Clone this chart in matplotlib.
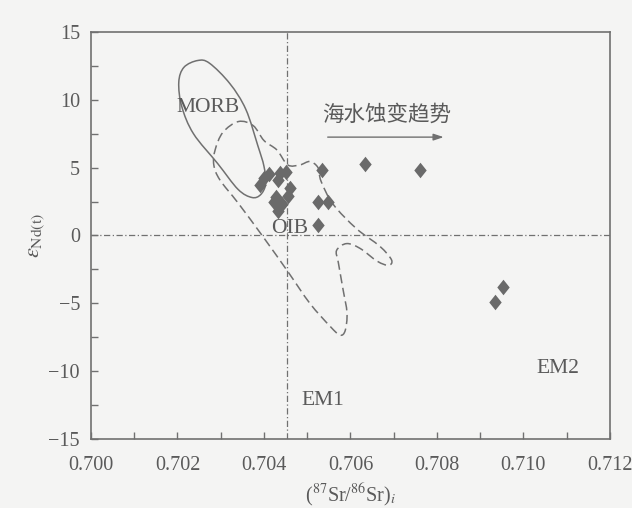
import numpy as np
import matplotlib
matplotlib.use('Agg')
import matplotlib.pyplot as plt
from matplotlib.path import Path
from matplotlib.patches import PathPatch

plt.rcParams['mathtext.fontset'] = 'stix'

# 样品数据 (87Sr/86Sr)i - εNd(t)
sr = [0.70390, 0.70400, 0.70412, 0.70433, 0.70437, 0.70451, 0.70460, 0.70456,
      0.70423, 0.70442, 0.70433, 0.70428, 0.70535, 0.70526, 0.70549, 0.70526,
      0.70633, 0.70760, 0.70953, 0.70934]
nd = [3.7, 4.2, 4.5, 4.1, 4.6, 4.7, 3.5, 2.9,
      2.5, 2.3, 1.8, 2.8, 4.8, 2.5, 2.5, 0.8,
      5.3, 4.8, -3.8, -4.9]

# MORB 区域 (实线)
morb_x = [0.70247, 0.70274, 0.70321, 0.70358, 0.70386, 0.70400, 0.70404, 0.70392,
          0.70372, 0.70340, 0.70293, 0.70237, 0.70210, 0.70203, 0.70215]
morb_y = [12.9, 12.7, 11.2, 9.3, 6.6, 5.1, 3.8, 3.0,
          2.8, 3.4, 5.3, 7.5, 9.5, 11.3, 12.4]

# OIB 区域 (虚线)
oib_x = [0.70341, 0.70375, 0.70400, 0.70430, 0.70455, 0.70483, 0.70506, 0.70525,
         0.70532, 0.70560, 0.70614, 0.70668, 0.70695, 0.70688, 0.70662, 0.70622,
         0.70591, 0.70568, 0.70572, 0.70583, 0.70592, 0.70588, 0.70576, 0.70553,
         0.70506, 0.70456, 0.70398, 0.70340, 0.70298, 0.70284, 0.70287, 0.70305]
oib_y = [8.4, 8.1, 7.0, 6.3, 5.2, 5.2, 5.45, 5.0,
         4.0, 2.3, 0.5, -0.8, -1.8, -2.2, -1.9, -0.95,
         -0.6, -1.1, -2.0, -4.0, -5.7, -7.0, -7.35, -6.7,
         -5.0, -2.7, -0.1, 2.4, 4.1, 5.2, 6.3, 7.6]

xticks = [0.700 + 0.001 * i for i in range(13)]
xlabels = ['0.700', '', '0.702', '', '0.704', '', '0.706', '', '0.708', '', '0.710', '', '0.712']
yticks = [-15, -12.5, -10, -7.5, -5, -2.5, 0, 2.5, 5, 7.5, 10, 12.5, 15]
ylabels = ['\u221215', '', '\u221210', '', '\u22125', '', '0', '', '5', '', '10', '', '15']

gray = '#707070'
txt = '#5a5a5a'
bg = '#f4f4f3'


def smooth_closed(xs, ys):
    # 闭合曲线 -> Catmull-Rom 转三次贝塞尔
    p = np.column_stack([xs, ys])
    n = len(p)
    verts = [p[0]]
    codes = [Path.MOVETO]
    for i in range(n):
        p0, p1, p2, p3 = p[i - 1], p[i], p[(i + 1) % n], p[(i + 2) % n]
        verts += [p1 + (p2 - p0) / 6, p2 - (p3 - p1) / 6, p2]
        codes += [Path.CURVE4] * 3
    return Path(verts, codes)


fig = plt.figure(figsize=(6.32, 5.08), dpi=100, facecolor=bg)
ax = fig.add_axes([0.144, 0.136, 0.821, 0.801], facecolor=bg)

serif = 'Liberation Serif'

ax.add_patch(PathPatch(smooth_closed(morb_x, morb_y), fill=False, ec=gray, lw=1.1))
ax.add_patch(PathPatch(smooth_closed(oib_x, oib_y), fill=False, ec=gray, lw=1.1,
                       ls=(0, (6, 3))))

ax.axvline(0.70453, color=gray, lw=0.9, ls=(0, (5, 2, 1, 2)))
ax.axhline(0, color=gray, lw=0.9, ls=(0, (5, 2, 1, 2)))

diamond = [(0, 1), (0.8, 0), (0, -1), (-0.8, 0), (0, 1)]
ax.scatter(sr, nd, marker=diamond, s=125, color='#6a6a6a', lw=0, zorder=3)

ax.text(0.70271, 9.4, 'MORB', ha='center', va='center', fontsize=15.5,
        family=serif, color=txt)
ax.text(0.70460, 0.5, 'OIB', ha='center', va='center', fontsize=15.5,
        family=serif, color=txt)
ax.text(0.70535, -12.2, 'EM1', ha='center', va='center', fontsize=15.5,
        family=serif, color=txt)
ax.text(0.71080, -9.8, 'EM2', ha='center', va='center', fontsize=15.5,
        family=serif, color=txt)
ax.text(0.70683, 8.9, '海水蚀变趋势', ha='center', va='center', fontsize=15.5,
        family=['Noto Sans CJK SC', 'DejaVu Sans'], color=txt)
ax.annotate('', xy=(0.70822, 7.25), xytext=(0.70541, 7.25),
            arrowprops=dict(arrowstyle='-|>,head_length=0.6,head_width=0.2',
                            color=gray, lw=1.0))

ax.set_xlim(0.700, 0.712)
ax.set_ylim(-15, 15)
ax.set_xticks(xticks)
ax.set_xticklabels(xlabels)
ax.set_yticks(yticks)
ax.set_yticklabels(ylabels)
ax.tick_params(direction='in', length=5, width=1, color=gray, labelcolor=txt,
               labelsize=14.5)
ax.tick_params(axis='x', pad=12)
ax.tick_params(axis='y', pad=8)
for lab in ax.get_xticklabels() + ax.get_yticklabels():
    lab.set_family(serif)
for s in ax.spines.values():
    s.set_color(gray)
    s.set_linewidth(1.2)

ax.set_xlabel(r'($^{87}$Sr/$^{86}$Sr)$_i$', fontsize=14.5, family=serif,
              color=txt, labelpad=5)
ax.set_ylabel(r'$\varepsilon_{\mathrm{Nd(t)}}$', fontsize=16, color=txt,
              labelpad=1)

fig.savefig('out.png', dpi=100, facecolor=bg)
